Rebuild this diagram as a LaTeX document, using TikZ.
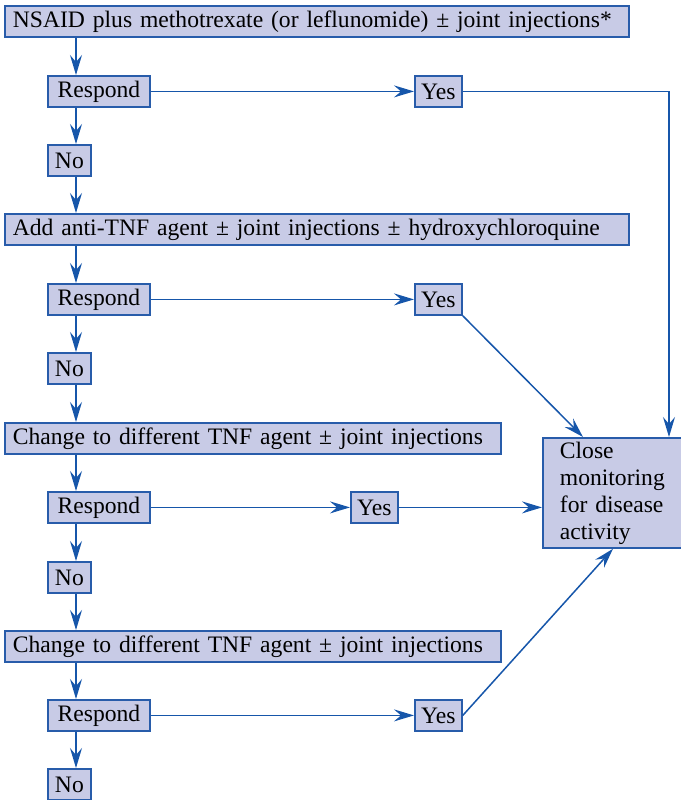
\documentclass[tikz,border=0pt]{standalone}
\usepackage{fontspec}
\setmainfont{Liberation Serif}
\usepackage{tikz}
\usetikzlibrary{positioning,calc,arrows.meta}
\definecolor{boxfill}{RGB}{200,203,230}
\definecolor{boxline}{RGB}{40,92,170}
\definecolor{arrline}{RGB}{22,86,170}
\begin{document}
\begin{tikzpicture}[x=0.5pt,y=-0.5pt,
  box/.style={draw=boxline,fill=boxfill,line width=0.9pt,inner xsep=4pt,inner ysep=0pt,
    minimum height=15.5pt,anchor=north west,font=\fontsize{11.8}{13.5}\selectfont},
  tag/.style={box,inner xsep=1.5pt},
  arr/.style={draw=arrline,line width=0.75pt,-{Stealth[length=10pt,width=6pt,inset=3.5pt]}}]
\useasboundingbox (0,0) rectangle (681,800);

% stage 1
\node[box,text width=304pt,align=left] (s1) at (4,5) {\mbox{NSAID plus methotrexate (or leflunomide) ± joint injections*}};
\node[box,minimum width=51pt] (r1) at (47,75) {Respond};
\node[tag,minimum width=23.5pt] (y1) at (414,75) {Yes};
\node[tag,minimum width=21.5pt] (n1) at (47,144) {No};
% stage 2
\node[box,text width=304pt,align=left] (s2) at (4,213) {Add anti-TNF agent ± joint injections ± hydroxychloroquine};
\node[box,minimum width=51pt] (r2) at (47,283) {Respond};
\node[tag,minimum width=23.5pt] (y2) at (414,283) {Yes};
\node[tag,minimum width=21.5pt] (n2) at (47,352) {No};
% stage 3
\node[box,text width=240pt,align=left] (s3) at (4,422) {Change to different TNF agent ± joint injections};
\node[box,minimum width=51pt] (r3) at (47,491) {Respond};
\node[tag,minimum width=23.5pt] (y3) at (350,491) {Yes};
\node[tag,minimum width=21.5pt] (n3) at (47,561) {No};
% stage 4
\node[box,text width=240pt,align=left] (s4) at (4,630) {Change to different TNF agent ± joint injections};
\node[box,minimum width=51pt] (r4) at (47,699) {Respond};
\node[tag,minimum width=23.5pt] (y4) at (414,699) {Yes};
\node[tag,minimum width=21.5pt] (n4) at (47,768) {No};

\node[box,text width=60pt,align=left,inner xsep=8.5pt,inner ysep=1pt,minimum height=55pt] (cl) at (542,437)
  {Close\\monitoring\\for disease\\activity};

% helper columns
\coordinate (sp) at (76,0);
\coordinate (ca) at (583,0);
\coordinate (cb) at (613,0);
\coordinate (cc) at (669,0);

\foreach \a/\b in {s1/r1,r1/n1,n1/s2,s2/r2,r2/n2,n2/s3,s3/r3,r3/n3,n3/s4,s4/r4,r4/n4}
  \draw[arr] (\a.south -| sp) -- (\b.north -| sp);
\foreach \i in {1,2,3,4}
  \draw[arr] (r\i.east) -- (y\i.west);

\draw[arr] (y1.east) -| (cl.north -| cc);
\draw[arr] (y2.south east) -- (cl.north -| ca);
\draw[arr] (y3.east) -- (y3.east -| cl.west);
\draw[arr] (y4.east) -- (cl.south -| cb);
\end{tikzpicture}
\end{document}
